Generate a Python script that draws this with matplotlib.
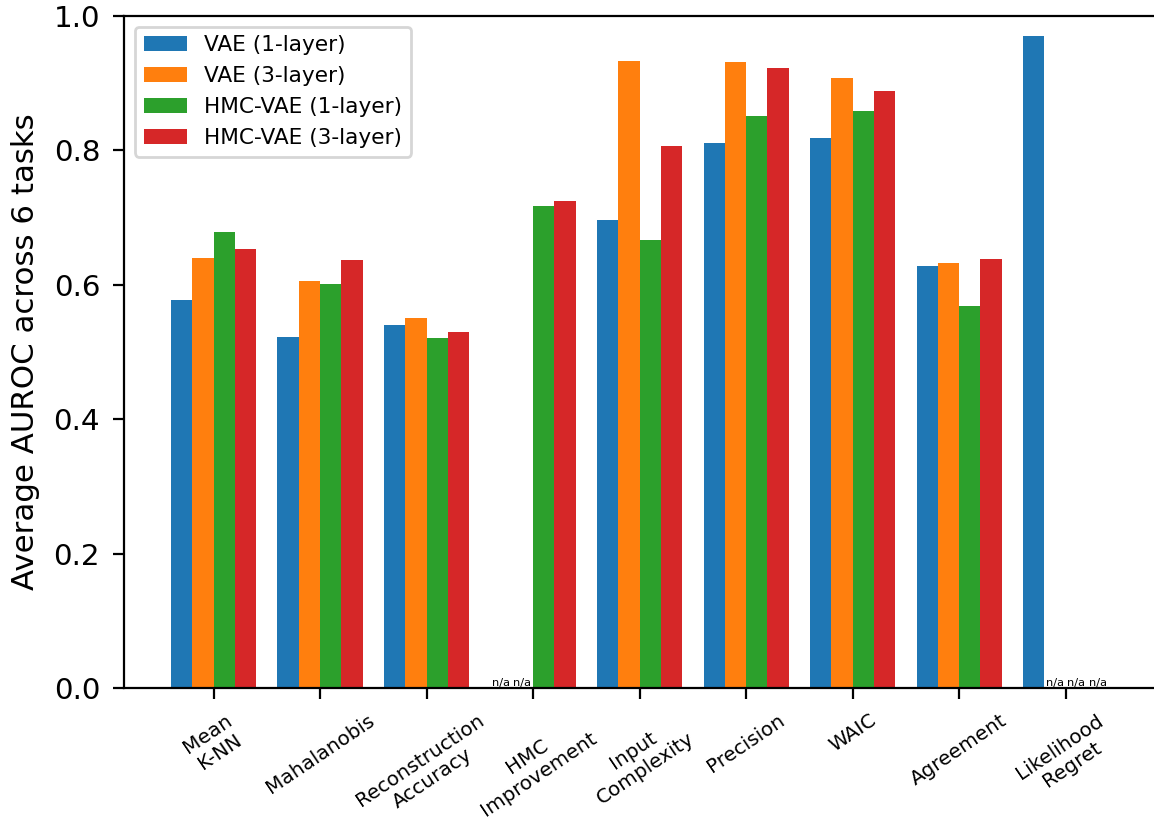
import numpy as np
import matplotlib.pyplot as plt

# Average AUROC over the 6 OOD tasks, per method and model
methods = ["Mean\nK-NN", "Mahalanobis", "Reconstruction\nAccuracy", "HMC\nImprovement",
           "Input\nComplexity", "Precision", "WAIC", "Agreement", "Likelihood\nRegret"]
models = ["VAE (1-layer)", "VAE (3-layer)", "HMC-VAE (1-layer)", "HMC-VAE (3-layer)"]

vae_1 = [0.577, 0.522, 0.540, np.nan, 0.696, 0.811, 0.818, 0.628, 0.970]
vae_3 = [0.640, 0.606, 0.550, np.nan, 0.933, 0.932, 0.908, 0.632, np.nan]
hmc_vae_1 = [0.678, 0.601, 0.521, 0.717, 0.667, 0.851, 0.858, 0.568, np.nan]
hmc_vae_3 = [0.653, 0.637, 0.529, 0.724, 0.807, 0.922, 0.888, 0.638, np.nan]

scores = [vae_1, vae_3, hmc_vae_1, hmc_vae_3]
colors = ["tab:blue", "tab:orange", "tab:green", "tab:red"]

x = np.arange(len(methods))
width = 0.2

fig = plt.figure(figsize=(5.77, 4.095), dpi=200)
ax = fig.add_axes([0.1075, 0.160, 0.8935, 0.8205])

for i, (vals, name, c) in enumerate(zip(scores, models, colors)):
    pos = x + (i - 1.5) * width
    vals = np.array(vals, dtype=float)
    ax.bar(pos, np.nan_to_num(vals), width, color=c, label=name)
    # mark methods that don't apply to this model
    for p, v in zip(pos, vals):
        if np.isnan(v):
            ax.text(p, 0, "n/a", ha="center", va="bottom", fontsize=4.1)

ax.set_ylim(0, 1.0)
ax.set_xticks(x)
ax.set_xticklabels(methods, rotation=34, ha="center", multialignment="center", fontsize=7.2)
ax.tick_params(axis="x", length=4, pad=4.2)
ax.tick_params(axis="y", labelsize=10.6, length=4, pad=4.6)
ax.set_ylabel("Average AUROC across 6 tasks", fontsize=11.1, labelpad=5)
ax.spines["right"].set_visible(False)
ax.legend(loc="upper left", fontsize=7.8)

fig.savefig("out.png", dpi=200)
